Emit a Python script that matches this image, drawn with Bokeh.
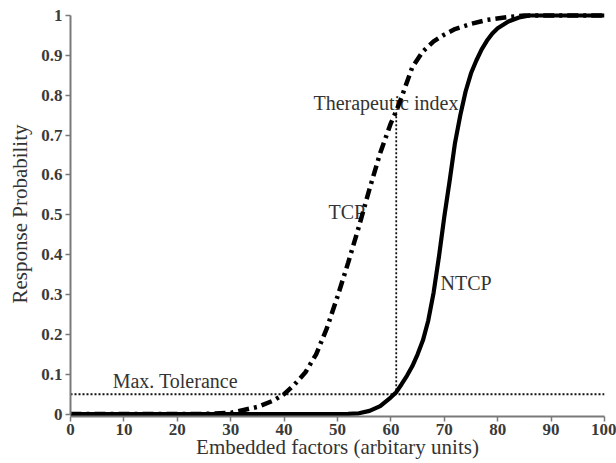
from bokeh.plotting import figure
from bokeh.models import Range1d, FixedTicker
from bokeh.core.properties import value
from bokeh.embed import file_html
from bokeh.resources import INLINE

# ---- data ----
tcp_x = [0, 10, 20, 25, 30, 35, 38, 40, 42, 44, 46, 48, 50, 52, 54, 56, 58, 60, 61, 62, 64, 66, 68, 70, 72, 75, 78, 82, 85, 90, 100]
tcp_y = [0, 0, 0, 0.0005, 0.003, 0.018, 0.034, 0.05, 0.075, 0.105, 0.15, 0.215, 0.295, 0.38, 0.47, 0.565, 0.655, 0.73, 0.76, 0.795, 0.87, 0.91, 0.935, 0.952, 0.966, 0.979, 0.989, 0.996, 1.0, 1.0, 1.0]

ntcp_x = [0, 10, 20, 30, 40, 50, 52, 54, 56, 58, 60, 61, 62, 63, 64, 65, 66, 67, 68, 69, 70, 71, 72, 73, 74, 75, 76, 77, 78, 79, 80, 82, 84, 86, 90, 100]
ntcp_y = [0, 0, 0, 0, 0, 0, 0.0005, 0.002, 0.008, 0.02, 0.042, 0.055, 0.075, 0.096, 0.12, 0.15, 0.185, 0.235, 0.305, 0.395, 0.495, 0.585, 0.68, 0.75, 0.81, 0.855, 0.887, 0.915, 0.937, 0.955, 0.968, 0.985, 0.995, 1.0, 1.0, 1.0]

max_tolerance = 0.05
therapeutic_x = 61
therapeutic_top = 0.76

x_ticks = [0, 10, 20, 30, 40, 50, 60, 70, 80, 90, 100]
y_ticks = [0, 0.1, 0.2, 0.3, 0.4, 0.5, 0.6, 0.7, 0.8, 0.9, 1]
y_tick_labels = ["0", "0.1", "0.2", "0.3", "0.4", "0.5", "0.6", "0.7", "0.8", "0.9", "1"]

FONT = "Liberation Serif"
TXT = "#333333"

p = figure(width=616, height=463, output_backend="svg", toolbar_location=None,
           x_range=Range1d(0, 100), y_range=Range1d(-0.006, 1.01),
           min_border_left=70, min_border_right=12, min_border_top=11, min_border_bottom=47)
p.outline_line_color = None
p.xgrid.visible = False
p.ygrid.visible = False
p.background_fill_color = "white"
p.border_fill_color = "white"

for ax in (p.xaxis[0], p.yaxis[0]):
    ax.axis_line_color = "#7a7a7a"
    ax.axis_line_width = 2
    ax.major_tick_line_color = "#7a7a7a"
    ax.major_tick_line_width = 1.5
    ax.major_tick_out = 5
    ax.major_tick_in = 0
    ax.minor_tick_line_color = None
    ax.major_label_text_font = FONT
    ax.major_label_text_font_size = "17px"
    ax.major_label_text_font_style = "bold"
    ax.major_label_text_color = "#3a3a3a"
    ax.axis_label_text_font = FONT
    ax.axis_label_text_font_size = "21px"
    ax.axis_label_text_font_style = "normal"
    ax.axis_label_text_color = TXT

p.xaxis[0].ticker = FixedTicker(ticks=x_ticks)
p.yaxis[0].ticker = FixedTicker(ticks=y_ticks)
p.yaxis[0].major_label_overrides = {t: l for t, l in zip(y_ticks, y_tick_labels)}
p.yaxis[0].bounds = (0, 1)
p.xaxis[0].major_label_standoff = 2
p.yaxis[0].major_label_standoff = 3
p.xaxis[0].axis_label = "Embedded factors (arbitary units)"
p.yaxis[0].axis_label = "Response Probability"
p.xaxis[0].axis_label_standoff = -3
p.yaxis[0].axis_label_standoff = 6

# annotation texts (drawn under the curves)
p.text(x=[45.5], y=[0.78], text=["Therapeutic index"], text_font=value(FONT),
       text_font_size="20px", text_color=TXT, text_baseline="middle", text_align="left")
p.text(x=[48.3], y=[0.506], text=["TCP"], text_font=value(FONT),
       text_font_size="20px", text_color=TXT, text_baseline="middle", text_align="left")
p.text(x=[69.3], y=[0.328], text=["NTCP"], text_font=value(FONT),
       text_font_size="20px", text_color=TXT, text_baseline="middle", text_align="left")
p.text(x=[7.9], y=[0.083], text=["Max. Tolerance"], text_font=value(FONT),
       text_font_size="20px", text_color=TXT, text_baseline="middle", text_align="left")

# dotted reference lines
p.line(x=[0, 100], y=[max_tolerance, max_tolerance], line_color="#111111",
       line_width=2, line_dash="2 2")
p.line(x=[therapeutic_x, therapeutic_x], y=[max_tolerance, therapeutic_top],
       line_color="#111111", line_width=1.8, line_dash="2 2")

# curves
p.line(x=ntcp_x, y=ntcp_y, line_color="black", line_width=4.2, line_join="round")
p.line(x=tcp_x, y=tcp_y, line_color="black", line_width=4.5, line_dash="11 5 3 5")

open("out.html", "w").write(file_html(p, INLINE))
